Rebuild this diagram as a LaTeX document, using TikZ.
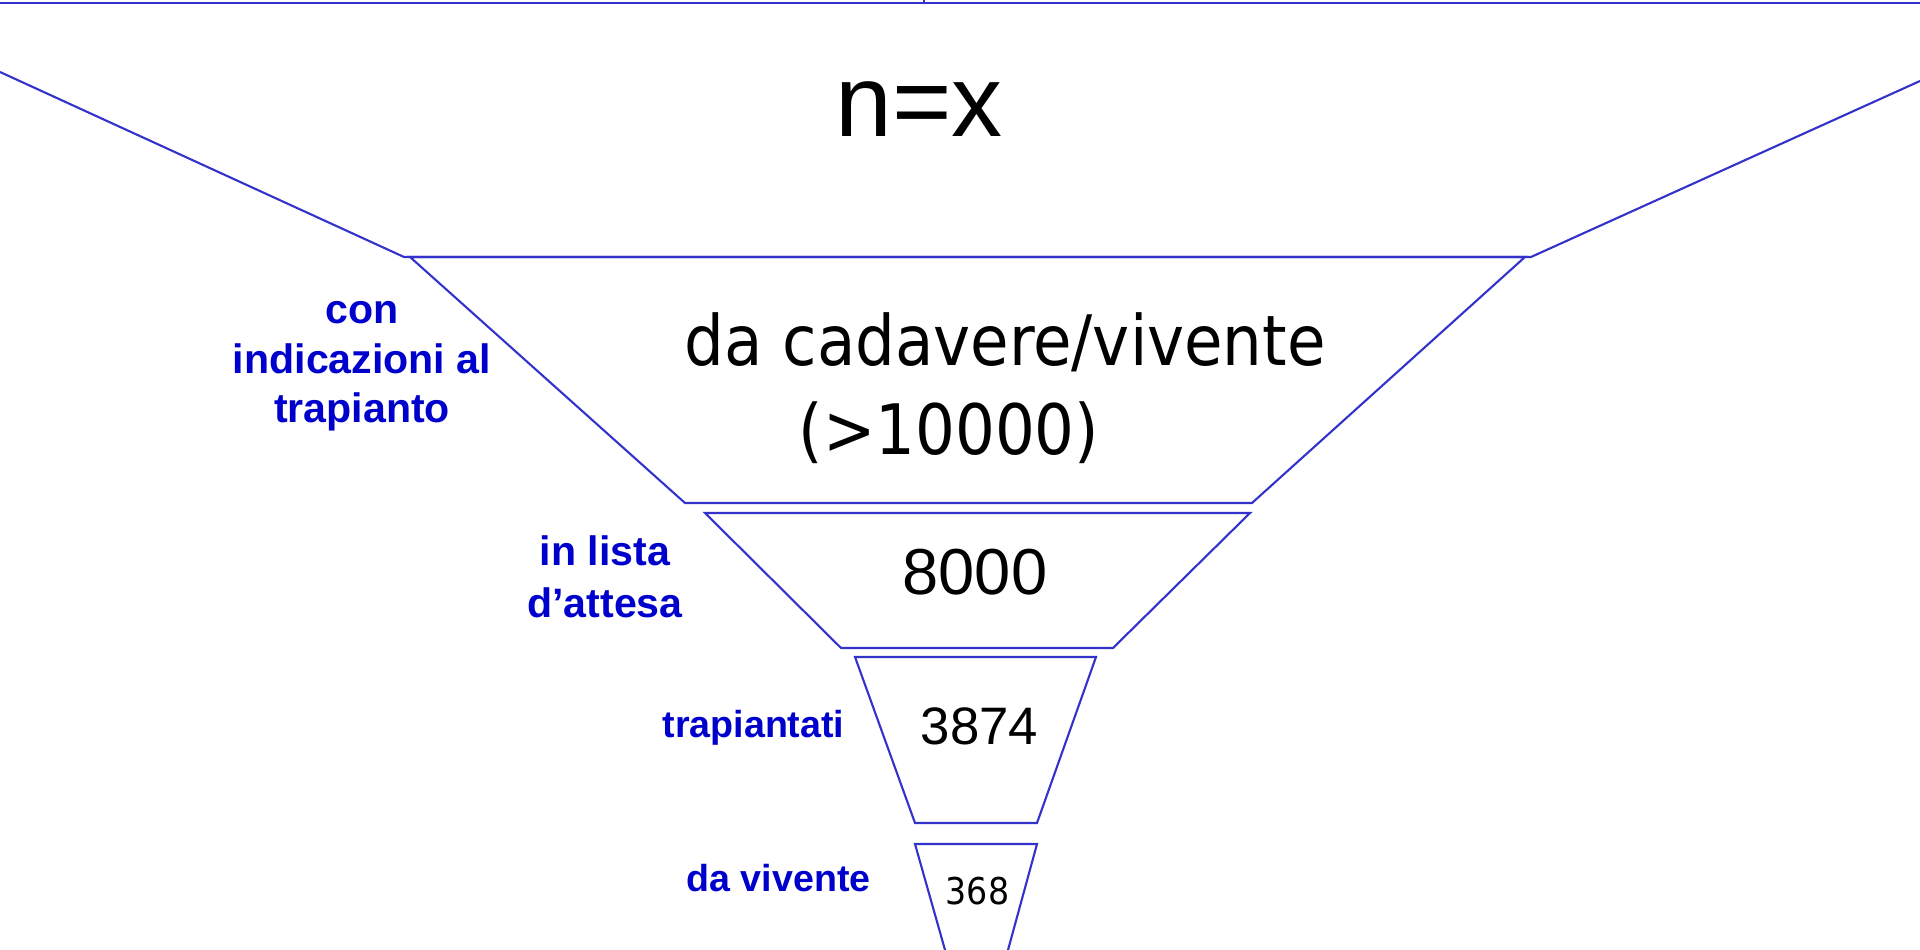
\documentclass[tikz,border=0pt]{standalone}
\usepackage{fontspec}
\setmainfont{Liberation Sans}
\newfontfamily\condfont{DejaVu Sans Condensed}
\usepackage{xcolor}
\usepackage{tikz}
\usetikzlibrary{positioning}

\definecolor{funnelblue}{RGB}{51,51,204}
\definecolor{tagblue}{RGB}{0,0,204}

\tikzset{
  edge/.style={draw=funnelblue, line width=0.6pt, line join=miter},
  count/.style={anchor=base, inner sep=0pt, text=black},
  tag/.style={anchor=base, inner sep=0pt, align=center, text=tagblue},
}

\begin{document}
\begin{tikzpicture}[x=1cm, y=1cm]
  \useasboundingbox (0,0) rectangle (19.2,9.5);
  % ---------- OUTER FUNNEL ----------
  \coordinate (TL) at (0,9.47);
  \coordinate (TR) at (19.2,9.47);
  \coordinate (FL) at (0,8.78);
  \coordinate (FR) at (19.2,8.69);
  \coordinate (NL) at (4.04,6.93);
  \coordinate (NR) at (15.31,6.93);
  \draw[edge] (TL) -- (TR);
  \draw[edge] (9.24,9.47) -- (9.24,9.5);
  \draw[edge] (FL) -- (NL) -- (NR) -- (FR);
  % ---------- STAGES ----------
  \coordinate (A1) at (4.10,6.93);  \coordinate (A2) at (15.25,6.93);
  \coordinate (A3) at (12.52,4.47); \coordinate (A4) at (6.85,4.47);
  \coordinate (B1) at (7.05,4.37);  \coordinate (B2) at (12.50,4.37);
  \coordinate (B3) at (11.13,3.02); \coordinate (B4) at (8.41,3.02);
  \coordinate (C1) at (8.55,2.93);  \coordinate (C2) at (10.96,2.93);
  \coordinate (C3) at (10.37,1.27); \coordinate (C4) at (9.15,1.27);
  \coordinate (D1) at (9.15,1.06);  \coordinate (D2) at (10.37,1.06);
  \coordinate (D3) at (9.998,-0.3); \coordinate (D4) at (9.535,-0.3);
  \foreach \s in {A,B,C,D}
    \draw[edge] (\s1) -- (\s2) -- (\s3) -- (\s4) -- cycle;
  % ---------- COUNTS ----------
  \node[count, font=\fontsize{29}{35}\selectfont] (nx) at (9.19,8.13) {n=x};
  \node[anchor=base west, inner sep=0pt, align=left,
        font=\condfont\fontsize{19.8}{25.6}\selectfont] (cadaveri) at (6.84,4.95)
        {da cadavere/vivente\\\hspace*{1.14cm}(>10000)};
  \node[count, font=\fontsize{18.5}{22}\selectfont] (attesa) at (9.75,3.55) {8000};
  \node[count, font=\fontsize{15}{18}\selectfont] (trapiantati) at (9.795,2.05) {3874};
  \node[count, font=\condfont\fontsize{10.5}{13}\selectfont] (viventi) at (9.775,0.45) {368};
  % ---------- TAGS ----------
  \node[tag, font=\bfseries\fontsize{11.7}{14.2}\selectfont] (tagind) at (3.62,5.27)
        {con\\indicazioni al\\trapianto};
  \node[tag, font=\bfseries\fontsize{11.7}{15}\selectfont] (taglista) at (6.05,3.32)
        {in lista\\d’attesa};
  \node[tag, font=\bfseries\fontsize{10.7}{13}\selectfont] (tagtrap) at (7.535,2.12) {trapiantati};
  \node[tag, font=\bfseries\fontsize{10.7}{13}\selectfont] (tagviv) at (7.785,0.58) {da vivente};
\end{tikzpicture}
\end{document}
